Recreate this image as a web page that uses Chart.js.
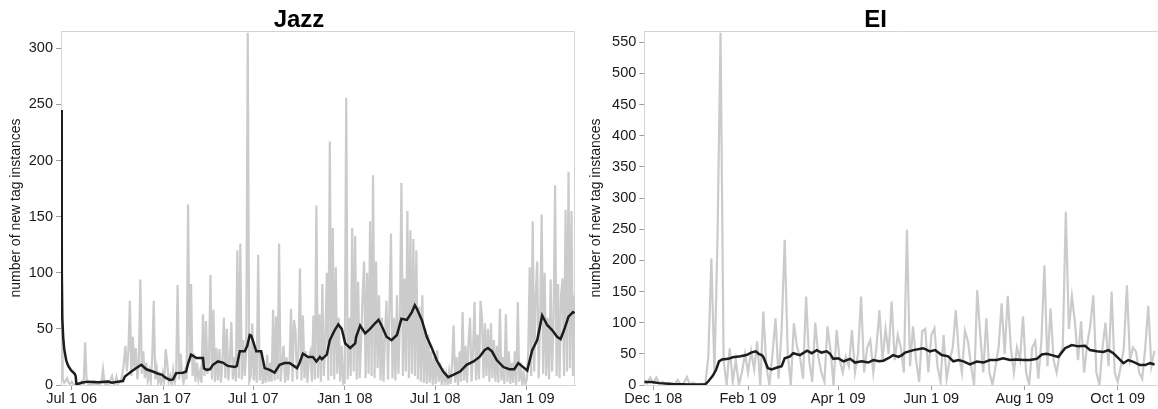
<!DOCTYPE html>
<html>
<head>
<meta charset="utf-8">
<script src="https://cdn.jsdelivr.net/npm/chart.js@4.4.0/dist/chart.umd.min.js"></script>
<style>
  html, body { margin: 0; padding: 0; background: #fff; }
  #wrap { position: relative; width: 1158px; height: 409px; overflow: hidden; }
  #jazz { position: absolute; left: 0; top: 0; }
  #ei { position: absolute; left: 580px; top: 0; }
</style>
</head>
<body>
<div id="wrap">
  <canvas id="jazz" width="580" height="409"></canvas>
  <canvas id="ei" width="580" height="409"></canvas>
</div>
<script>
// ---- Jazz: daily counts (every 3rd day, day 0 = Jul 1 2006) ----
const jazzDailyStart = -21;
const jazzDailyStep = 3;
const jazzDaily = [
  245, 5, 2, 4, 6, 2, 1, 3, 1, 0,
  0, 2, 1, 0, 3, 1, 38, 4, 1, 0,
  2, 0, 3, 1, 0, 2, 1, 3, 14, 2,
  0, 3, 1, 5, 8, 2, 0, 7, 1, 3,
  4, 10, 20, 35, 12, 30, 75, 8, 43, 15,
  33, 5, 20, 94, 10, 30, 6, 20, 4, 12,
  3, 25, 75, 5, 15, 2, 8, 0, 10, 2,
  32, 20, 3, 8, 0, 13, 2, 10, 89, 5,
  28, 10, 2, 12, 5, 161, 20, 90, 8, 28,
  3, 20, 5, 12, 2, 63, 8, 57, 10, 20,
  98, 5, 67, 3, 33, 4, 32, 2, 20, 60,
  6, 50, 4, 22, 56, 5, 25, 3, 120, 6,
  126, 5, 40, 8, 30, 314, 3, 8, 55, 4,
  30, 2, 116, 4, 30, 1, 15, 2, 27, 3,
  20, 3, 67, 4, 61, 5, 126, 3, 20, 35,
  2, 25, 4, 20, 68, 3, 58, 48, 5, 30,
  104, 4, 62, 6, 30, 2, 25, 30, 3, 62,
  5, 160, 6, 63, 3, 90, 8, 40, 100, 4,
  217, 8, 140, 5, 105, 10, 60, 3, 35, 1,
  2, 256, 5, 60, 8, 140, 12, 133, 5, 92,
  6, 40, 80, 110, 6, 100, 10, 146, 8, 187,
  6, 110, 15, 80, 4, 60, 3, 45, 75, 5,
  70, 135, 6, 60, 4, 80, 10, 60, 180, 8,
  95, 12, 155, 6, 138, 10, 130, 8, 120, 5,
  70, 3, 80, 2, 50, 1, 45, 2, 30, 0,
  25, 1, 31, 3, 20, 0, 15, 2, 10, 0,
  12, 1, 20, 53, 2, 25, 0, 30, 3, 65,
  4, 35, 2, 40, 60, 3, 30, 74, 4, 45,
  5, 75, 60, 6, 55, 8, 50, 3, 55, 6,
  40, 3, 35, 2, 68, 4, 25, 1, 63, 3,
  30, 1, 20, 2, 30, 0, 74, 3, 20, 1,
  10, 0, 5, 30, 105, 8, 146, 12, 80, 110,
  6, 60, 152, 10, 100, 8, 60, 5, 94, 12,
  60, 178, 8, 90, 6, 80, 95, 8, 156, 12,
  190, 15, 155, 8, 80
];

// ---- Jazz: smoothed trend ----
const jazzTrendDays = [
  -21, -20, -19, -17, -15, -11, -7, -1, 6, 8,
  9.5, 13, 19, 33, 53, 73, 81, 93, 103, 107,
  120, 133, 140, 150, 163, 174, 182, 187, 197, 204,
  210, 224, 230, 234, 240, 251, 264, 266, 271, 278,
  284, 294, 304, 310, 314, 328, 332, 338, 348, 353,
  358, 361, 365, 371, 381, 388, 398, 408, 418, 428,
  438, 448, 453, 458, 465, 475, 485, 492, 499, 503,
  513, 519, 529, 536, 543, 550, 560, 570, 572, 580,
  590, 600, 610, 617, 623, 633, 643, 654, 663, 674,
  684, 690, 694, 704, 714, 724, 734, 747, 757, 767,
  781, 794, 808, 820, 830, 837, 845, 855, 868, 880,
  890, 898, 906, 916, 926, 936, 946, 956, 966, 976,
  983, 990, 999, 1008, 1011
];
const jazzTrendValues = [
  245, 100, 60, 42, 32, 22, 17, 13, 10, 8,
  0.5, 1, 2, 3, 2.5, 3, 2, 3, 3.5, 7.5,
  12, 16, 18, 14, 12, 10, 9, 7, 4.5, 5,
  10.6, 11, 12, 19, 27, 24, 24, 15, 13.5, 14,
  18, 21, 20, 18, 17, 16, 17, 30, 30, 35,
  44.6, 44, 38.6, 30, 30, 15, 13.5, 11, 18, 19.6,
  19.6, 16.6, 15, 19.6, 28, 25, 25, 21, 25, 23,
  27, 40, 49, 54, 50, 37, 33, 37, 43, 53,
  46, 50, 55, 58, 53, 43, 40, 44.6, 59, 58,
  65, 71, 68, 58, 43, 33, 22, 12, 7, 9,
  12, 18, 21, 25, 31, 33, 30, 22, 16, 14,
  14, 19.6, 16.6, 13, 31, 40, 62, 53.5, 49, 43,
  41, 49, 61, 65, 64
];

const jazzTickDays = [0, 184, 365, 549, 731, 915];
const jazzTickLabels = ['Jul 1 06', 'Jan 1 07', 'Jul 1 07', 'Jan 1 08', 'Jul 1 08', 'Jan 1 09'];
const jazzYTicks = [0, 50, 100, 150, 200, 250, 300];

// ---- EI: daily counts (every 2nd day, day 0 = Dec 1 2008) ----
const eiDailyStart = -6;
const eiDailyStep = 2;
const eiDaily = [
  8, 3, 12, 4, 12, 2, 5, 1, 3, 0,
  2, 8, 0, 3, 13, 0, 4, 1, 0, 2,
  1, 45, 203, 20, 231, 565, 40, 0, 59, 5,
  40, 0, 20, 50, 20, 55, 25, 70, 0, 118,
  30, 0, 50, 107, 10, 88, 233, 50, 0, 99,
  62, 45, 10, 142, 40, 5, 100, 45, 20, 5,
  94, 55, 0, 88, 40, 20, 45, 30, 88, 20,
  50, 142, 20, 60, 72, 20, 60, 120, 40, 90,
  50, 134, 40, 80, 60, 20, 249, 30, 94, 40,
  5, 86, 90, 20, 80, 91, 30, 5, 80, 10,
  40, 60, 120, 50, 20, 87, 70, 30, 0, 152,
  80, 20, 107, 20, 0, 30, 60, 131, 50, 143,
  60, 20, 60, 40, 110, 20, 0, 60, 70, 10,
  70, 192, 30, 123, 40, 20, 50, 60, 278, 90,
  142, 100, 40, 102, 20, 65, 95, 144, 20, 0,
  60, 100, 30, 150, 20, 5, 30, 60, 160, 40,
  60, 53, 20, 10, 60, 127, 30, 55
];

// ---- EI: smoothed trend ----
const eiTrendDays = [
  -6, -2, 1, 4, 13, 24, 34, 36, 39, 41,
  43, 45, 49, 52, 57, 61, 64, 67, 69, 71,
  72, 75, 77.5, 81, 84, 86, 89.5, 91.6, 96, 100.6,
  103.7, 107, 110, 113.5, 115.7, 117.8, 121, 124.4, 128.8, 132,
  136.4, 140.7, 144, 147.7, 150.6, 153.8, 157, 160.4, 162.8, 164.8,
  170.2, 176.7, 181, 184.4, 188.8, 193, 196.4, 199.7, 203, 207.3,
  211.7, 216, 220.4, 224.8, 229, 233.5, 237.9, 242.2, 246.6, 251,
  254.3, 257.5, 260.8, 265.1, 269.5, 273.9, 278.2, 282.6, 285.9, 290.3,
  294.6, 297.9, 301.1, 304.4, 307.7, 310.9, 314.2, 318.6, 321.9, 325.2,
  328.1
];
const eiTrendValues = [
  5, 5, 4, 3, 1.5, 1, 1, 6, 15, 24,
  38, 41, 42, 44.5, 46, 48, 52, 54, 50, 48,
  45, 27, 25, 28, 30, 43, 46, 51, 48, 55,
  51, 56, 52, 54, 50, 42, 43, 38, 42, 36,
  38, 36, 40, 38, 39, 43, 48, 45, 48, 52,
  56, 59, 54, 56, 48, 46, 38, 40, 38, 33,
  37.5, 36, 40, 40, 43, 40, 41, 40, 40, 42,
  49, 50, 48, 45, 59, 64, 62, 63, 56, 54,
  53, 56, 51, 43, 35, 40, 37, 32, 32, 35,
  33
];

const eiTickDays = [0, 62, 121, 182, 243, 304];
const eiTickLabels = ['Dec 1 08', 'Feb 1 09', 'Apr 1 09', 'Jun 1 09', 'Aug 1 09', 'Oct 1 09'];
const eiYTicks = [0, 50, 100, 150, 200, 250, 300, 350, 400, 450, 500, 550];

// ---- helpers ----
const FONT = '"Liberation Sans", Arial, Helvetica, sans-serif';
Chart.defaults.font.family = FONT;

function stepPoints(start, step, values) {
  return values.map((v, i) => ({ x: start + i * step, y: v }));
}
function pairPoints(days, values) {
  return days.map((d, i) => ({ x: d, y: values[i] }));
}

// light frame along the top and right of the plot area
const frame = {
  id: 'frame',
  beforeDatasetsDraw(chart, args, opts) {
    const { ctx, chartArea: a } = chart;
    ctx.save();
    ctx.strokeStyle = opts.color;
    ctx.lineWidth = 1;
    ctx.beginPath();
    const t = Math.round(a.top) + 0.5;
    const r = Math.round(a.right) - 0.5;
    ctx.moveTo(a.left, t);
    ctx.lineTo(r, t);
    ctx.lineTo(r, a.bottom);
    ctx.stroke();
    ctx.restore();
  }
};

// bold panel heading
const panelTitle = {
  id: 'panelTitle',
  afterDraw(chart, args, opts) {
    const ctx = chart.ctx;
    ctx.save();
    ctx.font = 'bold 24px ' + FONT;
    ctx.fillStyle = '#000';
    ctx.textAlign = 'center';
    ctx.textBaseline = 'alphabetic';
    ctx.fillText(opts.text, opts.x, opts.y);
    ctx.restore();
  }
};

function makePanel(id, cfg) {
  return new Chart(document.getElementById(id), {
    type: 'line',
    data: {
      datasets: [
        {
          label: 'trend',
          data: cfg.trend,
          borderColor: '#1d1d1d',
          borderWidth: 2.5,
          pointRadius: 0,
          tension: 0,
          order: 0
        },
        {
          label: 'daily',
          data: cfg.daily,
          borderColor: '#cbcbcb',
          borderWidth: cfg.dailyWidth,
          pointRadius: 0,
          tension: 0,
          order: 1
        }
      ]
    },
    options: {
      responsive: false,
      animation: false,
      devicePixelRatio: 1,
      parsing: false,
      layout: { padding: { left: 5, right: cfg.padRight, top: 31, bottom: 0 } },
      plugins: {
        legend: { display: false },
        tooltip: { enabled: false },
        title: { display: false },
        frame: { color: '#d4d4d4' },
        panelTitle: { text: cfg.title, x: cfg.titleX, y: 27 }
      },
      scales: {
        x: {
          type: 'linear',
          min: cfg.xMin,
          max: cfg.xMax,
          afterBuildTicks: s => { s.ticks = cfg.xTicks.map(v => ({ value: v })); },
          afterFit: s => { s.height = 24; },
          ticks: {
            autoSkip: false,
            maxRotation: 0,
            padding: 0,
            color: '#1a1a1a',
            font: { size: 14.5 },
            callback: (v, i) => cfg.xLabels[i]
          },
          grid: { display: true, drawOnChartArea: false, drawTicks: true, tickLength: 5, color: '#9c9c9c' },
          border: { display: true, color: '#d4d4d4' }
        },
        y: {
          type: 'linear',
          min: 0,
          max: cfg.yMax,
          afterBuildTicks: s => { s.ticks = cfg.yTicks.map(v => ({ value: v })); },
          afterFit: s => { s.width = cfg.yWidth; },
          ticks: {
            padding: 3,
            color: '#1a1a1a',
            font: { size: 14.5 }
          },
          grid: { display: true, drawOnChartArea: false, drawTicks: true, tickLength: 5, color: '#9c9c9c' },
          border: { display: true, color: '#d4d4d4' },
          title: {
            display: true,
            text: 'number of new tag instances',
            color: '#1a1a1a',
            font: { size: 14 },
            padding: { top: 3, bottom: 0 }
          }
        }
      }
    },
    plugins: [frame, panelTitle]
  });
}

makePanel('jazz', {
  title: 'Jazz',
  titleX: 299,
  daily: stepPoints(jazzDailyStart, jazzDailyStep, jazzDaily),
  trend: pairPoints(jazzTrendDays, jazzTrendValues),
  dailyWidth: 2.2,
  xMin: -21.5,
  xMax: 1012,
  xTicks: jazzTickDays,
  xLabels: jazzTickLabels,
  yMax: 315.5,
  yTicks: jazzYTicks,
  yWidth: 56,
  padRight: 5
});

makePanel('ei', {
  title: 'EI',
  titleX: 295.5,
  daily: stepPoints(eiDailyStart, eiDailyStep, eiDaily),
  trend: pairPoints(eiTrendDays, eiTrendValues),
  dailyWidth: 2.2,
  xMin: -5.9,
  xMax: 331,
  xTicks: eiTickDays,
  xLabels: eiTickLabels,
  yMax: 568,
  yTicks: eiYTicks,
  yWidth: 59.3,
  padRight: 1
});
</script>
</body>
</html>
